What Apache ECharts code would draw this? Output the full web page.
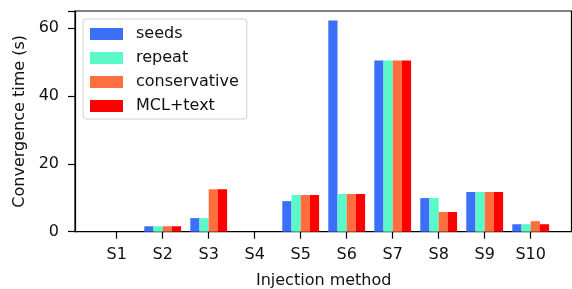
<!DOCTYPE html>
<html>
<head>
<meta charset="utf-8">
<script src="https://cdn.jsdelivr.net/npm/echarts@6/dist/echarts.min.js"></script>
<style>
  html, body { margin: 0; padding: 0; background: #fff; }
  #chart { width: 572px; height: 289px; }
</style>
</head>
<body>
<div id="chart"></div>
<script>
// data
var categories = ['S1', 'S2', 'S3', 'S4', 'S5', 'S6', 'S7', 'S8', 'S9', 'S10'];
var seeds        = [0, 1.6, 4.0, 0, 9.0, 62.2, 50.4, 9.9, 11.7, 2.2];
var repeat       = [0, 1.6, 4.0, 0, 10.8, 11.1, 50.4, 9.9, 11.7, 2.2];
var conservative = [0, 1.6, 12.5, 0, 10.8, 11.1, 50.4, 5.8, 11.7, 3.1];
var mclText      = [0, 1.6, 12.5, 0, 10.8, 11.1, 50.4, 5.8, 11.7, 2.2];
var yTicks = [0, 20, 40, 60];

var font = 'DejaVu Sans';
var fs = 16;
var chart = echarts.init(document.getElementById('chart'));

function barSeries(name, data, color) {
    return {
        name: name,
        type: 'bar',
        xAxisIndex: 1,
        yAxisIndex: 1,
        data: data,
        barGap: 0,
        barCategoryGap: '20%',
        itemStyle: { color: color },
        emphasis: { disabled: true }
    };
}

var option = {
    animation: false,
    textStyle: { fontFamily: font },
    grid: [
        // frame (spines) + y axis
        { left: 75, right: 0.5, top: 11, bottom: 57.3, show: true, borderColor: '#000', borderWidth: 1.2,
          backgroundColor: 'transparent', containLabel: false, outerBoundsMode: 'none' },
        // bars, S1 .. S10 spaced like the reference
        { left: 93.7, width: 460, top: 11, bottom: 57.3, containLabel: false, outerBoundsMode: 'none' }
    ],
    xAxis: [
        { type: 'value', gridIndex: 0, show: false, min: 0, max: 1 },
        {
            type: 'category', gridIndex: 1, data: categories,
            name: 'Injection method', nameLocation: 'middle', nameGap: 41,
            nameTextStyle: { fontFamily: font, fontSize: fs, color: '#111' },
            axisLine: { show: false },
            axisTick: { show: true, alignWithLabel: true, length: 7, lineStyle: { color: '#000', width: 1.2 } },
            axisLabel: { fontFamily: font, fontSize: fs, color: '#111', margin: 15 }
        }
    ],
    yAxis: [
        {
            type: 'value', gridIndex: 0, min: 0, max: 65, interval: 20,
            name: 'Convergence time (s)', nameLocation: 'middle', nameGap: 43,
            nameTextStyle: { fontFamily: font, fontSize: fs, color: '#111' },
            splitLine: { show: false },
            axisLine: { show: true, lineStyle: { color: '#000', width: 1.2 } },
            axisTick: { show: true, length: 7, lineStyle: { color: '#000', width: 1.2 } },
            axisLabel: {
                fontFamily: font, fontSize: fs, color: '#111', margin: 16,
                formatter: function (v) { return yTicks.indexOf(v) >= 0 ? String(v) : ''; }
            }
        },
        { type: 'value', gridIndex: 1, min: 0, max: 65, show: false, splitLine: { show: false } }
    ],
    legend: {
        orient: 'vertical',
        left: 83,
        top: 19,
        padding: [7, 8, 5, 7],
        itemWidth: 33,
        itemHeight: 12,
        itemGap: 8,
        backgroundColor: '#fff',
        borderColor: '#d0d0d0',
        borderWidth: 1,
        borderRadius: 3,
        icon: 'rect',
        textStyle: { fontFamily: font, fontSize: fs, color: '#111', lineHeight: 16, padding: [0, 0, 0, 8] },
        data: ['seeds', 'repeat', 'conservative', 'MCL+text']
    },
    series: [
        barSeries('seeds', seeds, '#3b6ff8'),
        barSeries('repeat', repeat, '#5cf9c8'),
        barSeries('conservative', conservative, '#ff6e3f'),
        barSeries('MCL+text', mclText, '#ff0000')
    ]
};
chart.setOption(option);
</script>
</body>
</html>
